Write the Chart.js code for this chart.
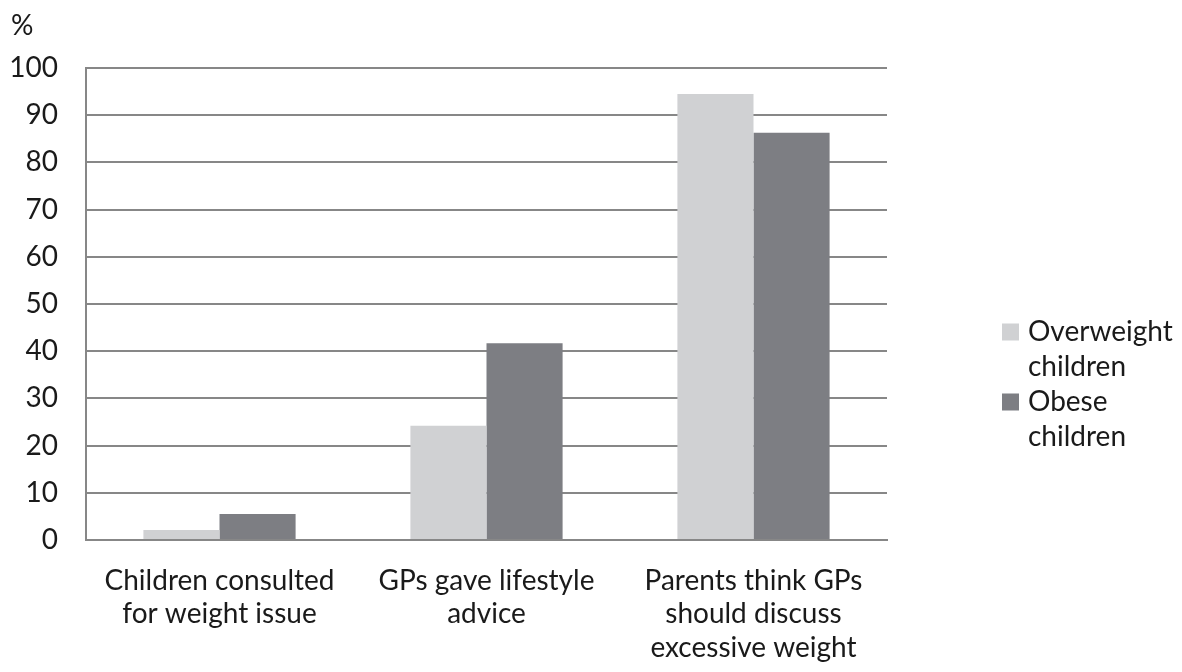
<!DOCTYPE html>
<html>
<head>
<meta charset="utf-8">
<script src="https://cdn.jsdelivr.net/npm/chart.js@4"></script>
<style>
  html, body { margin: 0; padding: 0; background: #fff; }
  #wrap { width: 1182px; height: 672px; }
</style>
</head>
<body>
<div id="wrap"><canvas id="gp-chart" width="1182" height="672"></canvas></div>
<script>
const categories = [
  ["Children consulted", "for weight issue"],
  ["GPs gave lifestyle", "advice"],
  ["Parents think GPs", "should discuss", "excessive weight"],
];
const overweight = [2.1, 24.2, 94.5];
const obese = [5.5, 41.7, 86.3];
const seriesNames = [["Overweight", "children"], ["Obese", "children"]];
const yTicks = [0, 10, 20, 30, 40, 50, 60, 70, 80, 90, 100];

const FONT = "Lato";
const SIZE = 28;
const TEXT = "#1a1a1a";
const GRID = "#878787";

// "%" unit label and the right-hand legend with wrapped names
const sideText = {
  id: "sideText",
  afterDraw(chart) {
    const c = chart.ctx;
    c.save();
    c.fillStyle = TEXT;
    c.font = SIZE + "px " + FONT;
    c.textBaseline = "middle";
    c.textAlign = "left";
    c.fillText("%", 11, 26);

    const x = 1002, box = 17;
    let y = 332;
    chart.data.datasets.forEach((ds, i) => {
      const lines = seriesNames[i];
      c.fillStyle = ds.backgroundColor;
      c.fillRect(x, y - box / 2, box, box);
      c.fillStyle = TEXT;
      lines.forEach((ln, j) => c.fillText(ln, x + 26, y + j * 35));
      y += lines.length * 35;
    });
    c.restore();
  }
};

new Chart(document.getElementById("gp-chart").getContext("2d"), {
  type: "bar",
  data: {
    labels: categories,
    datasets: [
      { label: "Overweight children", data: overweight, backgroundColor: "#d0d1d3" },
      { label: "Obese children", data: obese, backgroundColor: "#7d7e83" },
    ],
  },
  options: {
    responsive: false,
    animation: false,
    layout: { padding: { top: 68, right: 295, left: 10, bottom: 0 } },
    datasets: { bar: { categoryPercentage: 0.57, barPercentage: 1.0 } },
    plugins: { legend: { display: false }, tooltip: { enabled: false } },
    scales: {
      x: {
        afterFit: axis => { axis.height = 132; },
        grid: { display: false, drawTicks: false },
        border: { display: true, color: GRID, width: 2 },
        ticks: { color: TEXT, font: { family: FONT, size: SIZE }, padding: 24, maxRotation: 0 },
      },
      y: {
        min: 0,
        max: 100,
        afterBuildTicks: axis => { axis.ticks = yTicks.map(v => ({ value: v })); },
        afterFit: axis => { axis.width = 76; },
        grid: { color: GRID, lineWidth: 2, drawTicks: false },
        border: { display: true, color: GRID, width: 2 },
        ticks: { color: TEXT, font: { family: FONT, size: SIZE }, padding: 28 },
      },
    },
  },
  plugins: [sideText],
});
</script>
</body>
</html>
